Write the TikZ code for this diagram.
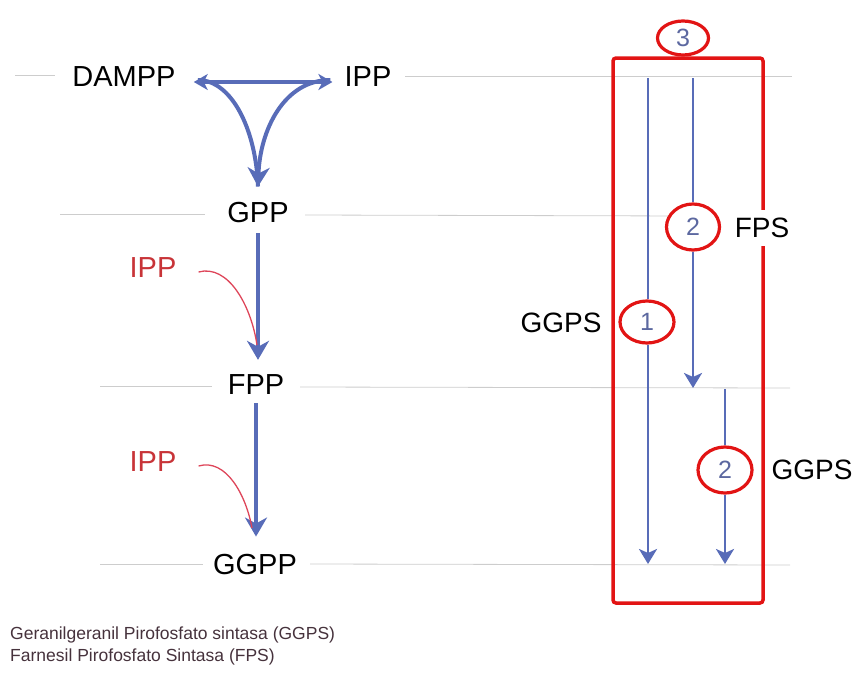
\documentclass[tikz,border=0pt]{standalone}
\usepackage{fontspec}
\setmainfont{Liberation Sans}
\usetikzlibrary{arrows.meta,shapes.geometric}
\definecolor{flowblue}{RGB}{88,108,184}
\definecolor{boxred}{RGB}{226,20,20}
\definecolor{ippred}{RGB}{200,52,56}
\definecolor{curvered}{RGB}{222,70,90}
\definecolor{guidegray}{RGB}{205,205,205}
\definecolor{numblue}{RGB}{92,104,160}
\definecolor{notegray}{RGB}{70,50,60}
\tikzset{
  lbl/.style={font=\fontsize{29}{32}\selectfont, inner sep=2pt, text=black},
  redlbl/.style={lbl, text=ippred},
  enzlbl/.style={font=\fontsize{28}{30}\selectfont, inner sep=2pt, text=black},
  enz/.style={enzlbl, fill=white, inner xsep=2pt, inner ysep=8pt},
  num/.style={ellipse, draw=boxred, line width=3.2pt, fill=white, text=numblue,
              font=\fontsize{25}{27}\selectfont, inner sep=0pt},
  guide/.style={draw=guidegray, line width=0.8pt},
  bigflow/.style={draw=flowblue, line width=4pt, -{Stealth[length=19pt,width=22pt,inset=6pt]}},
  thinflow/.style={draw=flowblue, line width=2.8pt},
  thinarrow/.style={thinflow, -{Stealth[length=15pt,width=18pt,inset=4pt]}},
  feed/.style={draw=curvered, line width=1.3pt},
  note/.style={font=\fontsize{17.5}{19}\selectfont, text=notegray, anchor=west, inner sep=0pt}
}
\begin{document}
\begin{tikzpicture}[x=1pt,y=-1pt]
\useasboundingbox (0,0) rectangle (856,672);
% guide lines
\draw[guide] (15,75) -- (55,75);
\draw[guide] (405,76) -- (792,76);
\draw[guide] (60,214) -- (205,214);
\draw[guide] (305,215) -- (690,216);
\draw[guide] (100,386) -- (212,386);
\draw[guide] (300,387) -- (790,388);
\draw[guide] (100,564) -- (203,564);
\draw[guide] (310,564) -- (790,565);
% main pathway
\node[lbl] (dampp) at (124,77) {DAMPP};
\node[lbl] (ipp) at (368,77) {IPP};
\node[lbl] (gpp) at (258,213) {GPP};
\node[lbl] (fpp) at (256,385) {FPP};
\node[lbl] (ggpp) at (255,565) {GGPP};
\node[redlbl] (ipp1) at (153,268) {IPP};
\node[redlbl] (ipp2) at (153,462) {IPP};
\draw[flowblue, line width=4pt, {Stealth[length=14pt,width=16pt,inset=4pt]}-{Stealth[length=14pt,width=16pt,inset=4pt]},
      shorten <=16pt, shorten >=10pt] ([yshift=-5pt]dampp.east) -- ([yshift=-5pt]ipp.west);
\coordinate (gtip) at ([yshift=14pt]gpp.north);
\draw[flowblue, line width=4pt] ([xshift=20pt,yshift=-3pt]dampp.east) .. controls (232,80) and (256,130) .. (gtip);
\draw[bigflow] ([xshift=-12pt,yshift=-3pt]ipp.west) .. controls (284,80) and (260,130) .. (gtip);
\draw[bigflow] ([yshift=-8pt]gpp.south) -- ([yshift=13pt]gpp.south |- fpp.north);
\draw[bigflow] ([yshift=-6pt]fpp.south) -- ([yshift=16pt]fpp.south |- ggpp.north);
\draw[feed] ([xshift=20pt,yshift=-4pt]ipp1.east) .. controls (228,264) and (251,305) .. (257,345);
\draw[feed] ([xshift=20pt,yshift=-4pt]ipp2.east) .. controls (226,458) and (246,495) .. (252,528);
% right box
\draw[boxred, line width=3.5pt, rounded corners=3pt] (613,58) rectangle (763,603);
\node[num, minimum width=51pt, minimum height=34pt] (c3) at (683,38) {3};
\coordinate (top1) at (648,78);
\coordinate (top2) at (693,78);
\coordinate (top3) at (725,389);
\coordinate (bot1) at (648,564);
\coordinate (bot2) at (693,388);
\coordinate (bot3) at (725,564);
\node[num, minimum width=53pt, minimum height=46pt] (c2a) at (693,227) {2};
\node[num, minimum width=54pt, minimum height=42pt] (c1) at (647,322) {1};
\node[num, minimum width=54pt, minimum height=46pt] (c2b) at (725,470) {2};
\draw[thinflow] (top1) -- (top1 |- c1.north);
\draw[thinarrow] (top1 |- c1.south) -- (bot1);
\draw[thinflow] (top2) -- (c2a.north);
\draw[thinarrow] (c2a.south) -- (bot2);
\draw[thinflow] (top3) -- (c2b.north);
\draw[thinarrow] (c2b.south) -- (bot3);
\node[enz] (fps) at (762,228) {FPS};
\node[enzlbl] (ggps1) at (561,323) {GGPS};
\node[enzlbl] (ggps2) at (812,470) {GGPS};
% footnote
\node[note] (n1) at (10,635) {Geranilgeranil Pirofosfato sintasa (GGPS)};
\node[note] (n2) at (10,657) {Farnesil Pirofosfato Sintasa (FPS)};
\end{tikzpicture}
\end{document}
